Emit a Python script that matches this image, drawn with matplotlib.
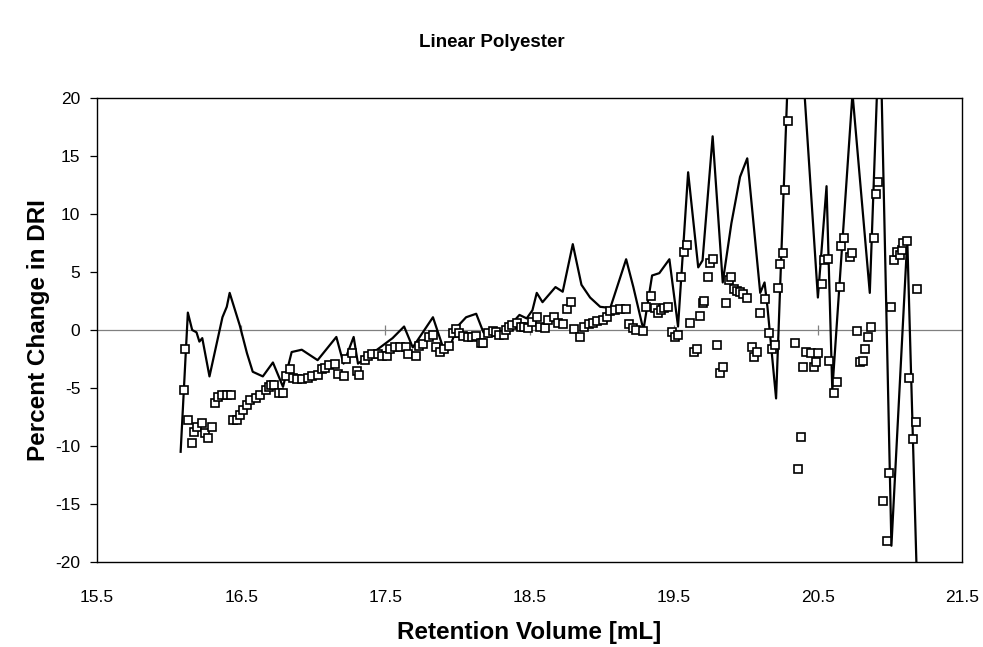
import matplotlib
matplotlib.use("Agg")
import matplotlib.pyplot as plt
import numpy as np

plt.rcParams['font.family'] = ['Liberation Sans', 'DejaVu Sans']
plt.rcParams['axes.unicode_minus'] = False

# Durchgezogene Linie (geglättete Kurve)
line_x = [16.08, 16.13, 16.16, 16.19, 16.21, 16.23, 16.28, 16.37, 16.40, 16.42,
          16.49, 16.54, 16.58, 16.65, 16.72, 16.79, 16.85, 16.92, 17.03, 17.16,
          17.21, 17.28, 17.31, 17.41, 17.55, 17.63, 17.69, 17.83, 17.90, 17.94,
          18.00, 18.06, 18.13, 18.18, 18.21, 18.30, 18.38, 18.43, 18.48, 18.52,
          18.55, 18.59, 18.68, 18.73, 18.80, 18.86, 18.92, 18.99, 19.06, 19.17,
          19.22, 19.29, 19.35, 19.40, 19.47, 19.53, 19.60, 19.67, 19.70, 19.77,
          19.84, 19.90, 19.96, 20.01, 20.10, 20.13, 20.15, 20.21, 20.33, 20.50,
          20.56, 20.60, 20.74, 20.86, 20.93, 21.01, 21.12, 21.19]
line_y = [-10.5, 1.5, 0.0, -0.2, -1.0, -0.7, -4.0, 1.1, 2.0, 3.2,
          0.4, -2.0, -3.6, -4.0, -2.8, -4.9, -1.9, -1.7, -2.6, -0.6,
          -2.9, -0.6, -2.9, -2.0, -0.7, 0.3, -1.5, 1.1, -1.5, -1.7,
          0.3, 1.1, 1.4, -0.2, -0.6, -0.4, 0.6, 1.3, 1.0, 1.7,
          3.2, 2.4, 3.7, 3.3, 7.4, 3.9, 2.8, 2.0, 1.9, 6.1,
          3.7, 0.0, 4.7, 4.9, 6.1, 0.3, 13.6, 5.4, 6.0, 16.7,
          4.1, 9.2, 13.2, 14.8, 3.2, 4.1, 2.0, -5.9, 35.0, 2.8,
          12.4, -5.2, 20.4, 3.2, 27.4, -18.6, 7.8, -23.0]

# Offene Quadrate (Messpunkte)
pts_x = [16.10, 16.11, 16.13, 16.16, 16.17, 16.19, 16.23, 16.25, 16.27, 16.30,
         16.32, 16.34, 16.37, 16.40, 16.43, 16.44, 16.47, 16.49, 16.51, 16.54,
         16.56, 16.60, 16.63, 16.67, 16.69, 16.71, 16.73, 16.76, 16.79, 16.81,
         16.84, 16.86, 16.89, 16.92, 16.96, 16.99, 17.03, 17.06, 17.08, 17.11,
         17.15, 17.17, 17.21, 17.23, 17.27, 17.30, 17.32, 17.36, 17.38, 17.41,
         17.45, 17.48, 17.51, 17.53, 17.57, 17.60, 17.64, 17.66, 17.71, 17.73,
         17.76, 17.80, 17.83, 17.85, 17.88, 17.91, 17.94, 17.97, 17.99, 18.01,
         18.04, 18.07, 18.10, 18.13, 18.16, 18.18, 18.21, 18.25, 18.27, 18.29,
         18.32, 18.34, 18.36, 18.38, 18.41, 18.44, 18.46, 18.49, 18.52, 18.55,
         18.57, 18.61, 18.63, 18.67, 18.70, 18.73, 18.76, 18.79, 18.81, 18.85,
         18.88, 18.91, 18.94, 18.97, 19.01, 19.04, 19.06, 19.09, 19.13, 19.17,
         19.19, 19.22, 19.24, 19.29, 19.31, 19.34, 19.37, 19.39, 19.41, 19.43,
         19.46, 19.49, 19.51, 19.53, 19.55, 19.57, 19.59, 19.61, 19.64, 19.66,
         19.68, 19.70, 19.71, 19.74, 19.75, 19.77, 19.80, 19.82, 19.84, 19.86,
         19.88, 19.90, 19.92, 19.94, 19.96, 19.98, 20.01, 20.04, 20.06, 20.08,
         20.10, 20.13, 20.16, 20.18, 20.20, 20.22, 20.24, 20.26, 20.27, 20.29,
         20.34, 20.36, 20.38, 20.40, 20.42, 20.45, 20.47, 20.49, 20.50, 20.53,
         20.54, 20.57, 20.58, 20.61, 20.63, 20.65, 20.66, 20.68, 20.72, 20.74,
         20.77, 20.79, 20.81, 20.83, 20.85, 20.87, 20.89, 20.90, 20.92, 20.95,
         20.98, 20.99, 21.01, 21.03, 21.05, 21.07, 21.08, 21.09, 21.12, 21.13,
         21.16, 21.18, 21.19]
pts_y = [-5.2, -1.6, -7.8, -9.7, -8.8, -8.4, -8.0, -8.9, -9.3, -8.4,
         -6.3, -5.8, -5.6, -5.6, -5.6, -7.8, -7.8, -7.3, -6.9, -6.5,
         -6.0, -5.9, -5.6, -5.2, -4.9, -4.7, -4.7, -5.4, -5.4, -4.0,
         -3.4, -4.1, -4.2, -4.2, -4.1, -4.0, -3.9, -3.4, -3.3, -3.0,
         -2.9, -3.8, -4.0, -2.5, -2.0, -3.5, -3.9, -2.6, -2.2, -2.1,
         -2.1, -2.2, -2.2, -1.6, -1.5, -1.5, -1.5, -2.1, -2.2, -1.4,
         -1.2, -0.6, -0.4, -1.5, -1.9, -1.6, -1.4, -0.3, 0.1, -0.3,
         -0.5, -0.6, -0.6, -0.5, -1.1, -1.1, -0.3, -0.1, -0.2, -0.4,
         -0.4, 0.0, 0.3, 0.4, 0.6, 0.3, 0.3, 0.2, 0.7, 1.1,
         0.3, 0.2, 0.9, 1.1, 0.6, 0.5, 1.8, 2.4, 0.1, -0.6,
         0.3, 0.5, 0.6, 0.8, 0.9, 1.1, 1.6, 1.7, 1.8, 1.8,
         0.5, 0.2, 0.0, -0.1, 2.0, 2.9, 1.9, 1.5, 1.7, 1.9,
         2.0, -0.2, -0.6, -0.4, 4.6, 6.7, 7.3, 0.6, -1.9, -1.6,
         1.2, 2.3, 2.5, 4.6, 5.8, 6.1, -1.3, -3.7, -3.2, 2.3,
         4.3, 4.6, 3.5, 3.4, 3.3, 3.1, 2.8, -1.5, -2.3, -1.9,
         1.5, 2.7, -0.3, -1.6, -1.3, 3.6, 5.7, 6.6, 12.1, 18.0,
         -1.1, -12.0, -9.2, -3.2, -1.9, -2.0, -3.2, -2.8, -2.0, 4.0,
         6.0, 6.1, -2.7, -5.4, -4.5, 3.7, 7.2, 7.9, 6.3, 6.6,
         -0.1, -2.8, -2.7, -1.6, -0.6, 0.3, 7.9, 11.7, 12.8, -14.7,
         -18.2, -12.3, 2.0, 6.0, 6.7, 6.5, 6.9, 7.5, 7.7, -4.1,
         -9.4, -7.9, 3.5]

x_ticks = [15.5, 16.5, 17.5, 18.5, 19.5, 20.5, 21.5]
y_ticks = [-20, -15, -10, -5, 0, 5, 10, 15, 20]

fig = plt.figure(figsize=(9.83, 6.47), dpi=100)
ax = fig.add_axes([0.0987, 0.1314, 0.88, 0.7171])

# Nulllinie mit kleinen Strichen an den Hauptteilungen
ax.axhline(0, color='#808080', lw=0.9, zorder=1)
ax.vlines(x_ticks[1:-1], -0.45, 0.45, color='#808080', lw=0.9, zorder=1)

ax.plot(line_x, line_y, color='black', lw=1.6, zorder=2)
ax.plot(pts_x, pts_y, ls='none', marker='s', ms=6.4, mfc='white',
        mec='black', mew=1.2, zorder=3)

ax.set_xlim(15.5, 21.5)
ax.set_ylim(-20, 20)
ax.set_xticks(x_ticks)
ax.set_xticklabels([f"{v:.1f}" for v in x_ticks])
ax.set_yticks(y_ticks)
ax.tick_params(axis='x', length=0, pad=20, labelsize=12.5)
ax.tick_params(axis='y', direction='out', length=5, width=0.9, pad=7, labelsize=12.5)
for s in ax.spines.values():
    s.set_linewidth(1.0)

ax.set_xlabel('Retention Volume [mL]', fontsize=17.5, fontweight='bold', labelpad=12)
ax.set_ylabel('Percent Change in DRI', fontsize=17.5, fontweight='bold', labelpad=4)
fig.text(0.5, 0.935, 'Linear Polyester', ha='center', va='center',
         fontsize=13.5, fontweight='bold')

fig.savefig('out.png', dpi=100)
